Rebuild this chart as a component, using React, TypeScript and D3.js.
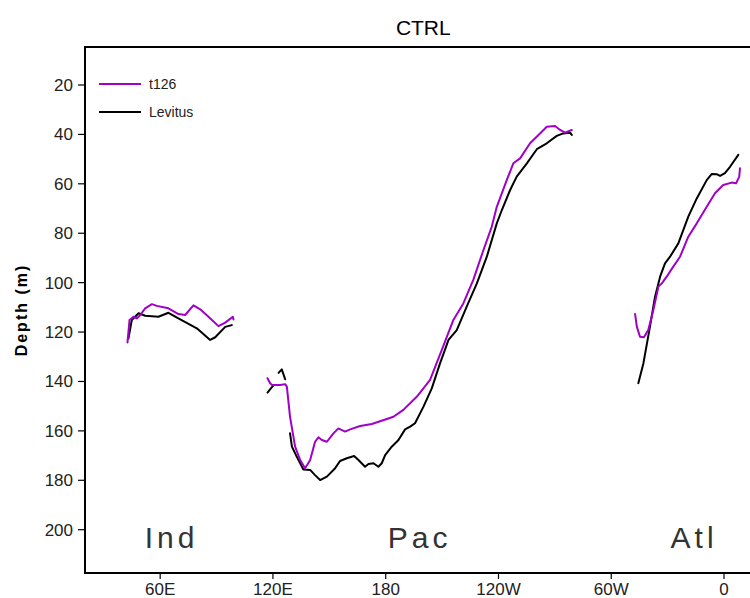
import React from "react";
import * as d3 from "d3";

// longitude in degrees east (0..360+), depth in metres
const xTickValues = [60, 120, 180, 240, 300, 360];
const xTickLabels = ["60E", "120E", "180", "120W", "60W", "0"];
const yTickValues = [20, 40, 60, 80, 100, 120, 140, 160, 180, 200];

const basinNames = ["Ind", "Pac", "Atl"];
const basinLon = [65, 197, 343];

const seriesNames = ["t126", "Levitus"];
const seriesColors = ["#a000c8", "#000000"];

type P = [number, number];

const t126Ind: P[] = [
  [42.6, 124.2], [43.7, 115.1], [45.8, 113.8], [47.6, 114.5], [49.4, 113.1], [52.0, 110.4],
  [55.6, 108.7], [58.2, 109.4], [64.4, 110.4], [69.7, 112.7], [73.3, 113.1], [77.7, 109.2],
  [81.3, 110.8], [85.7, 113.8], [91.0, 117.6], [94.6, 116.2], [98.7, 113.8], [99.0, 114.9],
];
const levInd: P[] = [
  [43.1, 122.6], [44.9, 115.1], [48.5, 112.4], [52.0, 113.4], [59.1, 113.8], [64.4, 112.2],
  [69.7, 114.5], [79.5, 118.5], [86.6, 123.2], [89.3, 122.1], [94.6, 117.9], [98.1, 117.2],
];
const t126Pac: P[] = [
  [117.1, 138.7], [118.5, 140.7], [119.4, 141.4], [121.2, 141.4], [123.8, 141.4], [126.5, 141.1],
  [127.4, 142.1], [129.1, 154.3], [131.8, 166.4], [134.5, 171.8], [137.1, 175.1], [139.8, 171.8],
  [142.4, 164.4], [144.2, 162.6], [146.0, 163.7], [148.7, 164.4], [152.2, 161.0], [154.8, 159.0],
  [158.4, 160.3], [161.1, 159.4], [166.4, 158.0], [172.6, 157.2], [180.6, 155.2], [184.1, 154.3],
  [189.4, 151.5], [196.5, 146.2], [203.6, 139.4], [209.8, 127.3], [216.0, 115.1], [221.3, 108.4],
  [226.6, 98.9], [232.0, 86.8], [236.4, 77.4], [239.1, 69.3], [244.4, 58.5], [247.9, 51.7],
  [251.5, 49.7], [256.8, 43.6], [262.1, 39.6], [265.7, 36.9], [270.1, 36.6], [272.8, 38.2],
  [275.4, 39.3], [279.0, 38.2],
];
const levPacA: P[] = [[117.1, 144.5], [118.9, 142.8], [120.3, 141.6]];
const levPacB: P[] = [[123.0, 136.5], [124.7, 135.1], [126.5, 139.1]];
const levPac: P[] = [
  [129.1, 161.0], [130.1, 166.4], [132.7, 170.5], [136.2, 175.6], [139.8, 175.8], [142.4, 177.9],
  [145.1, 179.9], [148.7, 178.5], [153.1, 175.1], [155.7, 172.2], [159.3, 171.1], [163.2, 170.2],
  [165.5, 171.8], [169.0, 174.5], [170.8, 173.4], [173.5, 173.1], [176.1, 174.5], [177.9, 173.1],
  [179.7, 169.8], [183.2, 166.4], [186.8, 163.7], [190.3, 159.4], [193.0, 158.3], [195.6, 156.9],
  [200.1, 150.2], [204.5, 142.8], [208.9, 132.7], [211.6, 127.0], [213.4, 123.2], [217.8, 119.2],
  [223.1, 109.7], [228.5, 100.3], [233.8, 89.5], [239.1, 76.0], [241.8, 70.6], [246.2, 62.5],
  [249.7, 57.1], [255.1, 51.7], [260.4, 46.0], [265.7, 43.6], [271.0, 40.6], [274.5, 39.6],
  [278.1, 39.3], [279.0, 40.2],
];
const t126Atl: P[] = [
  [312.7, 112.7], [313.6, 117.8], [315.3, 121.9], [317.4, 122.1], [319.7, 119.2], [322.4, 111.1],
  [325.1, 101.6], [326.9, 100.3], [329.5, 97.6], [333.0, 93.5], [336.6, 89.5], [341.0, 81.4],
  [345.5, 76.0], [350.8, 69.3], [355.2, 63.8], [359.6, 60.5], [364.1, 59.5], [366.4, 59.8],
  [368.1, 57.1], [368.5, 53.7],
];
const levAtl: P[] = [
  [314.4, 140.7], [317.1, 132.7], [320.6, 117.8], [323.3, 105.7], [326.0, 97.6], [328.6, 92.2],
  [331.3, 89.5], [335.7, 84.1], [341.0, 73.3], [345.5, 65.9], [350.8, 58.5], [353.5, 56.0],
  [356.1, 56.1], [357.9, 56.8], [360.5, 55.7], [363.2, 53.1], [367.6, 48.3],
];

const t126Segments = [t126Ind, t126Pac, t126Atl];
const levSegments = [levInd, levPacA, levPacB, levPac, levAtl];

const W = 750;
const H = 598;
const left = 85;
const right = 761.6;
const top = 47;
const bottom = 573;

export default function App() {
  const x = d3.scaleLinear().domain([20, 380]).range([left, right]);
  const y = d3.scaleLinear().domain([20, 200]).range([85, 529.7]);
  const line = d3
    .line<P>()
    .x((d) => x(d[0]))
    .y((d) => y(d[1]));
  const font = "'Liberation Sans', Arial, sans-serif";

  return (
    <svg
      width={W}
      height={H}
      style={{ position: "absolute", left: 0, top: 0, background: "#fff" }}
      fontFamily={font}
    >
      <rect x={0} y={0} width={W} height={H} fill="#fff" />
      <text x={(left + right) / 2} y={35} textAnchor="middle" fontSize={21} fill="#000">
        CTRL
      </text>
      {/* lines */}
      <g fill="none" strokeWidth={2} strokeLinejoin="round" strokeLinecap="round">
        {levSegments.map((s, i) => (
          <path key={"l" + i} d={line(s) || ""} stroke={seriesColors[1]} />
        ))}
        {t126Segments.map((s, i) => (
          <path key={"t" + i} d={line(s) || ""} stroke={seriesColors[0]} />
        ))}
      </g>
      {/* frame */}
      <rect
        x={left}
        y={top}
        width={right - left}
        height={bottom - top}
        fill="none"
        stroke="#000"
        strokeWidth={2}
      />
      {/* y ticks */}
      {yTickValues.map((v) => (
        <g key={"y" + v}>
          <line x1={left - 7} x2={left} y1={y(v)} y2={y(v)} stroke="#000" strokeWidth={1.2} />
          <text x={left - 12} y={y(v) + 6} textAnchor="end" fontSize={17} fill="#222">
            {v}
          </text>
        </g>
      ))}
      {/* x ticks */}
      {xTickValues.map((v, i) => (
        <g key={"x" + v}>
          <line x1={x(v)} x2={x(v)} y1={bottom} y2={bottom + 6} stroke="#000" strokeWidth={1.2} />
          <text x={x(v)} y={bottom + 22} textAnchor="middle" fontSize={17} fill="#222">
            {xTickLabels[i]}
          </text>
        </g>
      ))}
      <text
        transform={`translate(27, 310) rotate(-90)`}
        textAnchor="middle"
        fontSize={16}
        fontWeight="bold"
        letterSpacing={2}
        fill="#000"
      >
        Depth (m)
      </text>
      {/* basin labels */}
      {basinNames.map((n, i) => (
        <text
          key={n}
          x={x(basinLon[i]) + 2}
          y={548}
          textAnchor="middle"
          fontSize={30}
          letterSpacing={4}
          fontWeight={300}
          fill="#333"
        >
          {n}
        </text>
      ))}
      {/* legend */}
      {seriesNames.map((n, i) => (
        <g key={n}>
          <line
            x1={99}
            x2={141}
            y1={84 + i * 28}
            y2={84 + i * 28}
            stroke={seriesColors[i]}
            strokeWidth={2}
          />
          <text x={149} y={89 + i * 28} fontSize={14} fill="#222">
            {n}
          </text>
        </g>
      ))}
    </svg>
  );
}
